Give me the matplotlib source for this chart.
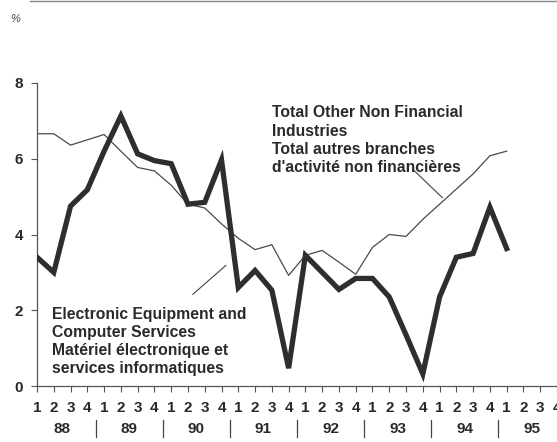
import matplotlib
matplotlib.use("Agg")
import matplotlib.pyplot as plt
from matplotlib.lines import Line2D
import matplotlib.transforms as mtransforms

# ---------------- data ----------------
years = ["88", "89", "90", "91", "92", "93", "94", "95"]
quarters = ["1", "2", "3", "4"]

electronic = [3.4, 3.0, 4.75, 5.18, 6.2, 7.13, 6.13, 5.95, 5.87, 4.8, 4.85, 5.97,
              2.6, 3.05, 2.53, 0.47, 3.45, 3.0, 2.55, 2.84, 2.84, 2.35, 1.35, 0.32,
              2.35, 3.4, 3.5, 4.72, 3.63]
other = [6.66, 6.66, 6.36, 6.5, 6.64, 6.2, 5.77, 5.68, 5.3, 4.8, 4.7, 4.28,
         3.9, 3.6, 3.73, 2.92, 3.45, 3.58, 3.27, 2.95, 3.66, 4.0, 3.95, 4.4,
         4.8, 5.2, 5.6, 6.08, 6.2]

label_other = ["Total Other Non Financial", "Industries",
               "Total autres branches", "d'activité non financières"]
label_elec = ["Electronic Equipment and", "Computer Services",
              "Matériel électronique et", "services informatiques"]

# ---------------- figure ----------------
W, H = 557, 442
fig = plt.figure(figsize=(W / 100, H / 100), dpi=100)
fig.patch.set_facecolor("white")

x0, x1 = 37, 557
y0, y8 = 386, 83
ax = fig.add_axes([x0 / W, 1 - y0 / H, (x1 - x0) / W, (y0 - y8) / H])
ax.set_facecolor("none")

nq = len(years) * len(quarters)
xs = list(range(len(electronic)))
ax.plot(xs, other, color="#4a4a4a", lw=0.9, solid_joinstyle="round", zorder=2)
ax.plot(xs, electronic, color="#2e2e2e", lw=3.8, solid_joinstyle="miter", zorder=3)

ax.set_xlim(0, nq - 1)
ax.set_ylim(0, 8)

for s in ["top", "right"]:
    ax.spines[s].set_visible(False)
for s in ["left", "bottom"]:
    ax.spines[s].set_color("#555555")
    ax.spines[s].set_linewidth(0.9)
ax.spines["bottom"].set_bounds(0, nq)

txtc = "#2a2a2a"
fnt = "Liberation Sans"
tfs = 11

ax.set_yticks([0, 2, 4, 6, 8])
ax.set_yticklabels(["0", "2", "4", "6", "8"], fontsize=tfs, fontweight="bold",
                   color=txtc, family=fnt)
ax.tick_params(axis="y", direction="out", length=4, width=0.8, color="#555555", pad=6)

ax.set_xticks(list(range(nq)))
ax.set_xticklabels(quarters * len(years), fontsize=tfs, fontweight="bold",
                   color=txtc, family=fnt)
ax.tick_params(axis="x", direction="out", length=4, width=0.8, color="#555555", pad=7)

# year labels and separators
trans = mtransforms.blended_transform_factory(ax.transData, fig.transFigure)
for i, yr in enumerate(years):
    cx = i * 4 + 1.5
    ax.text(cx, 1 - 429 / H, yr, transform=trans, ha="center", va="center",
            fontsize=tfs, fontweight="bold", color=txtc, family=fnt, clip_on=False)
    if i > 0:
        sx = i * 4 - 0.5
        ax.add_line(Line2D([sx, sx], [1 - 420 / H, 1 - 437 / H], transform=trans,
                           color="#444444", lw=0.9, clip_on=False))

# labels (one text per line, baselines spaced evenly)
lfs = 11.3
step = 18.2 / 38.0
for k, line in enumerate(label_other):
    ax.text(13.99, 7.09 - k * step, line, ha="left", va="baseline", fontsize=lfs,
            fontweight="bold", color=txtc, family=fnt)
ax.plot([22.5, 24.17], [5.68, 4.97], color="#444444", lw=0.8)

for k, line in enumerate(label_elec):
    ax.text(0.89, 1.78 - k * step, line, ha="left", va="baseline", fontsize=lfs,
            fontweight="bold", color=txtc, family=fnt)
ax.plot([9.29, 11.25], [2.42, 3.18], color="#444444", lw=0.8)

fig.text(15 / W, 1 - 19 / H, "%", fontsize=8, color="#444444", family=fnt,
         ha="center", va="center", style="italic")
fig.add_artist(Line2D([30 / W, 1.0], [1 - 1 / H, 1 - 1 / H], color="#888888", lw=1.0))

fig.savefig("out.png", dpi=100, facecolor="white")
